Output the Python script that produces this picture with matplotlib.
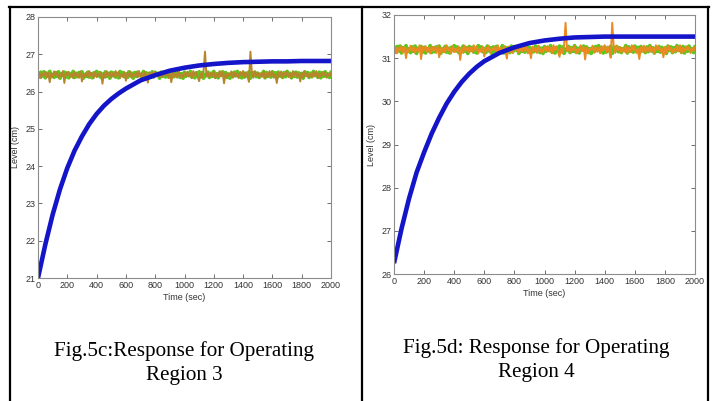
import numpy as np
import matplotlib
matplotlib.use("Agg")
import matplotlib.pyplot as plt
from matplotlib.lines import Line2D

# blue level response
t_resp = [0, 50, 100, 150, 200, 250, 300, 350, 400, 450, 500, 550, 600,
          700, 800, 900, 1000, 1100, 1200, 1300, 1400, 1500, 1600, 1700,
          1800, 1900, 2000]
level_5c = [21.0, 21.9, 22.7, 23.38, 23.95, 24.42, 24.8, 25.13, 25.4, 25.62,
            25.8, 25.95, 26.08, 26.3, 26.44, 26.56, 26.64, 26.7, 26.74, 26.77,
            26.79, 26.8, 26.81, 26.81, 26.82, 26.82, 26.82]
level_5d = [26.25, 27.05, 27.75, 28.35, 28.82, 29.25, 29.62, 29.95, 30.22,
            30.45, 30.64, 30.8, 30.93, 31.12, 31.25, 31.35, 31.41, 31.45,
            31.48, 31.49, 31.5, 31.5, 31.5, 31.5, 31.5, 31.5, 31.5]

# measured noise bands (setpoint level + deviation in hundredths of cm)
setpoint_5c = 26.45
setpoint_5d = 31.2
green_dev = [2,-6,7,-3,8,-8,4,-2,9,-5,1,-7,6,-4,8,-9,3,-1,7,-6,
             5,-8,2,-3,9,-7,4,-5,6,-2,8,-9,1,-4,7,-6,3,-8,5,-1,
             9,-3,6,-7,2,-5,8,-4,4,-9,7,-2,5,-6,3,-8,9,-1,6,-5,
             2,-7,8,-3,4,-9,6,-4,7,-2,1,-6,9,-8,5,-3,3,-7,8,-5,
             6,-1,4,-9,7,-4,2,-6,9,-3,5,-8,1,-5,8,-2,6,-7,3,-9,
             7,-4,4,-1,9,-6,2,-8,5,-3,8,-5,6,-9,1,-2,7,-7,4,-4,
             9,-6,3,-8,5,-1,8,-3,6,-7,2,-9,4,-5,7,-2,9,-4,1,-8,
             6,-6,3,-3,8,-9,5,-1,7,-5,4,-7,2,-2,9,-8,6,-4,3,-6,
             8,-1,5,-9,7,-3,1,-7,6,-5,9,-2,4,-8,2,-4,7,-6,5,-3,
             3,-9,8,-1,6,-7,4,-5,9,-2,1,-6,7,-8,5,-4,8,-3,2,-7,6]
orange_dev = [-4,6,-9,3,-2,8,-7,5,-20,4,-6,9,-3,7,-8,2,-5,10,-22,6,
              -1,8,-6,4,-9,7,-3,5,-8,9,-18,3,-5,6,-7,10,-2,4,-9,8,
              -6,3,-4,7,-24,5,-8,9,-2,6,-7,4,-5,10,-3,8,-9,2,-6,7,
              -16,5,-4,9,-8,3,-2,6,-7,10,-5,4,-9,8,-3,-21,7,-6,5,-8,
              9,-2,4,-7,6,-5,10,-3,8,-9,3,-20,7,-4,5,-8,9,-6,2,-7,
              6,-3,8,-5,4,-9,10,-2,7,-6,-17,3,-8,9,62,-4,6,-7,5,-3,
              8,-9,2,-6,10,-4,7,-23,5,-8,3,-2,9,-7,6,-5,4,-9,8,-3,
              10,-6,7,-4,-19,62,5,-8,9,-2,6,-7,3,-5,8,-9,4,-6,10,-3,
              7,-8,2,-22,6,-4,9,-7,5,-3,8,-6,4,-9,10,-2,7,-5,3,-18,
              6,-8,9,-4,5,-7,2,-6,8,-3,10,-9,4,-5,7,-2,6,-8,3,-4,5]

x_ticks = [0, 200, 400, 600, 800, 1000, 1200, 1400, 1600, 1800, 2000]
yticks_5c = [21, 22, 23, 24, 25, 26, 27, 28]
yticks_5d = [26, 27, 28, 29, 30, 31, 32]

captions = ["Fig.5c:Response for Operating\nRegion 3",
            "Fig.5d: Response for Operating\nRegion 4"]

W, H = 715, 401
fig = plt.figure(figsize=(W / 100, H / 100), dpi=100)

def px(x0, y0, x1, y1):
    return [x0 / W, 1 - y1 / H, (x1 - x0) / W, (y1 - y0) / H]

ax1 = fig.add_axes(px(38, 17, 331, 278))
ax2 = fig.add_axes(px(394, 15, 695, 274))

panels = [
    (ax1, level_5c, setpoint_5c, yticks_5c, '#b8862a'),
    (ax2, level_5d, setpoint_5d, yticks_5d, '#e98a22'),
]

for ax, level, sp, yt, ocol in panels:
    tg = np.linspace(0, 2000, len(green_dev))
    to = np.linspace(0, 2000, len(orange_dev))
    ax.plot(tg, sp + 0.01 * np.array(green_dev), color='#5cc81e', lw=2.7)
    ax.plot(to, sp + 0.01 * np.array(orange_dev), color=ocol, lw=1.4)
    ax.plot(t_resp, level, color='#1414c8', lw=3.3, solid_capstyle='butt')
    ax.set_xlim(0, 2000)
    ax.set_ylim(yt[0], yt[-1])
    ax.set_xticks(x_ticks)
    ax.set_yticks(yt)
    ax.tick_params(direction='in', length=3, width=0.6, top=True, right=True,
                   labelsize=6.5, colors='#555555', labelcolor='#333333', pad=2)
    for lab in ax.get_xticklabels() + ax.get_yticklabels():
        lab.set_family('Liberation Sans')
    for s in ax.spines.values():
        s.set_color('#8c8c8c')
        s.set_linewidth(0.8)
    ax.set_xlabel('Time (sec)', fontsize=6.5, family='Liberation Sans',
                  color='#333333', labelpad=2)
    ax.set_ylabel('Level (cm)', fontsize=6.5, family='Liberation Sans',
                  color='#333333', labelpad=4)

# captions
fig.text(184 / W, 1 - 363 / H, captions[0], ha='center', va='center',
         family='Liberation Serif', fontsize=15.2, linespacing=1.3)
fig.text(536 / W, 1 - 360 / H, captions[1], ha='center', va='center',
         family='Liberation Serif', fontsize=15.2, linespacing=1.3)

# table frame
frame = [((9, 709), (7, 7)), ((10, 10), (7, 401)), ((362, 362), (7, 401)),
         ((708, 708), (7, 401))]
for xs, ys in frame:
    fig.add_artist(Line2D([x / W for x in xs], [1 - y / H for y in ys],
                          color='black', lw=1.6))

fig.savefig('out.png', dpi=100)
